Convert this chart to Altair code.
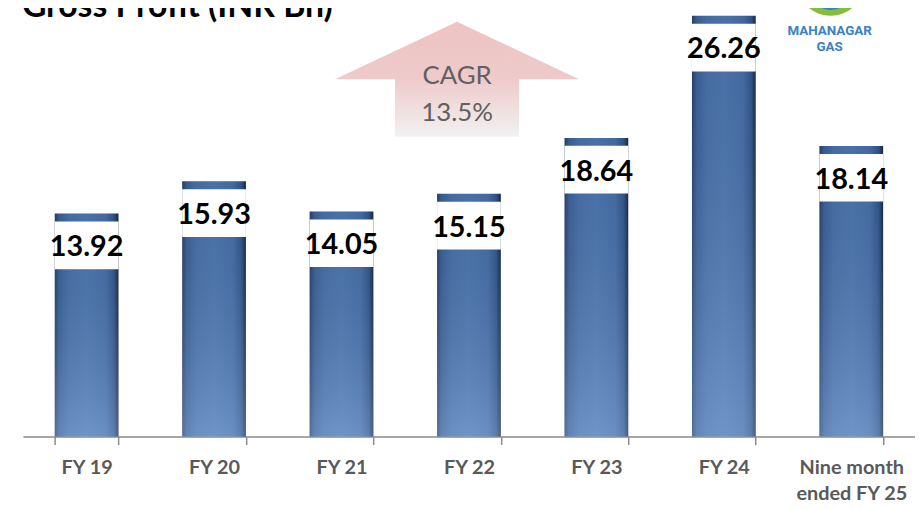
import altair as alt
import pandas as pd

categories = ["FY 19", "FY 20", "FY 21", "FY 22", "FY 23", "FY 24", "Nine month ended FY 25"]
values = [13.92, 15.93, 14.05, 15.15, 18.64, 26.26, 18.14]
value_labels = ["13.92", "15.93", "14.05", "15.15", "18.64", "26.26", "18.14"]
title_text = "Gross Profit (INR Bn)"
cagr_lines = ["CAGR", "13.5%"]
logo_lines = ["MAHANAGAR", "GAS"]

df = pd.DataFrame({"cat": categories, "val": values, "lab": value_labels})

Y_MAX = 26.63
xscale = alt.Scale(domain=categories, paddingInner=0.5, paddingOuter=0.25)
yscale = alt.Scale(domain=[0, Y_MAX], nice=False, zero=True)

xenc = alt.X("cat:N", scale=xscale, sort=categories,
             axis=alt.Axis(title=None, labelAngle=0, tickBand="extent", domainColor="#8a8a8a",
                           domainWidth=1.5, tickColor="#8a8a8a", tickWidth=1.5, tickSize=8,
                           labelColor="#595959", labelFont="Lato", labelFontWeight="bold",
                           labelFontSize=20, labelPadding=13, labelLineHeight=26,
                           labelBaseline="top",
                           labelExpr="datum.label == 'Nine month ended FY 25' ? ['Nine month', 'ended FY 25'] : datum.label"))
yenc = alt.Y("val:Q", scale=yscale, axis=None)

bar_grad = alt.LinearGradient(
    gradient="linear", x1=0, x2=1, y1=0, y2=0,
    stops=[
        alt.GradientStop(offset=0, color="#243f66"),
        alt.GradientStop(offset=0.07, color="#3b6196"),
        alt.GradientStop(offset=0.22, color="#4a72aa"),
        alt.GradientStop(offset=0.5, color="#4f79b2"),
        alt.GradientStop(offset=0.8, color="#4870a8"),
        alt.GradientStop(offset=0.93, color="#33568a"),
        alt.GradientStop(offset=1, color="#14263f"),
    ])
shade_grad = alt.LinearGradient(
    gradient="linear", x1=0, x2=0, y1=0, y2=1,
    stops=[
        alt.GradientStop(offset=0, color="rgba(20,40,80,0.10)"),
        alt.GradientStop(offset=1, color="rgba(170,200,240,0.35)"),
    ])

base = alt.Chart(df)
bars = base.mark_bar(fill=bar_grad, strokeWidth=0).encode(x=xenc, y=yenc)
shade = base.mark_bar(fill=shade_grad, strokeWidth=0).encode(x=xenc, y=yenc)
boxes = base.mark_bar(color="white", yOffset=8, y2Offset=56).encode(
    x=xenc, y=yenc, y2="val:Q")
labels = base.mark_text(font="Lato", fontWeight="bold", fontSize=29, color="black",
                        baseline="alphabetic", dy=43).encode(x=xenc, y=yenc, text="lab:N")

arrow_grad = alt.LinearGradient(
    gradient="linear", x1=0, x2=0, y1=0, y2=1,
    stops=[
        alt.GradientStop(offset=0, color="#eec3c3"),
        alt.GradientStop(offset=0.5, color="#efcaca"),
        alt.GradientStop(offset=1, color="#f2f2f2"),
    ])
arrow_df = pd.DataFrame({"cat": ["FY 22"], "val": [22.3]})
arrow = alt.Chart(arrow_df).mark_point(
    shape="M0,-0.4715L1,0L0.508,0L0.508,0.4715L-0.508,0.4715L-0.508,0L-1,0Z",
    size=60516, filled=True, fill=arrow_grad, opacity=1, strokeWidth=0, xOffset=-12
).encode(x=alt.X("cat:N", scale=xscale, sort=categories), y=alt.Y("val:Q", scale=yscale))

cagr_df = pd.DataFrame({"cat": ["FY 22", "FY 22"], "val": [22.5, 20.2], "t": cagr_lines})
cagr = alt.Chart(cagr_df).mark_text(font="Lato", fontSize=26, color="#606060",
                                    baseline="middle", xOffset=-12).encode(
    x=alt.X("cat:N", scale=xscale, sort=categories), y=alt.Y("val:Q", scale=yscale), text="t:N")

title = alt.Chart(pd.DataFrame({"t": [title_text]})).mark_text(
    font="Lato", fontWeight="bold", fontSize=34, color="black", align="left", baseline="alphabetic"
).encode(x=alt.value(-1), y=alt.value(7), text="t:N")

emblem_df = pd.DataFrame({"k": [0]})
emblem_outer = alt.Chart(emblem_df).mark_point(
    shape="circle", filled=True, color="#86bd3f", opacity=1, size=4624, strokeWidth=0
).encode(x=alt.value(814), y=alt.value(-28))
emblem_mid = alt.Chart(emblem_df).mark_point(
    shape="circle", filled=True, color="#2f86c4", opacity=1, size=1936, strokeWidth=0
).encode(x=alt.value(814), y=alt.value(-22))
emblem_inner = alt.Chart(emblem_df).mark_point(
    shape="circle", filled=True, color="#ffffff", opacity=1, size=400, strokeWidth=0
).encode(x=alt.value(814), y=alt.value(-16))

logo_df = pd.DataFrame({"t": logo_lines, "yy": [21, 37]})
logo = alt.Chart(logo_df).mark_text(
    font="Roboto", fontWeight="bold", fontSize=13.5, color="#3d80c3",
    baseline="middle"
).encode(x=alt.value(813), y=alt.Y("yy:Q", scale=None), text="t:N")

chart = alt.layer(bars, shade, boxes, labels, arrow, cagr, title,
                  emblem_outer, emblem_mid, emblem_inner, logo).properties(
    width=899, height=430,
    padding={"left": 15, "top": 0, "right": 0, "bottom": 66},
    autosize=alt.AutoSizeParams(type="none"),
    background="white",
).configure_view(stroke=None)

chart.save("out.html", embed_options={"renderer": "svg", "actions": False})
